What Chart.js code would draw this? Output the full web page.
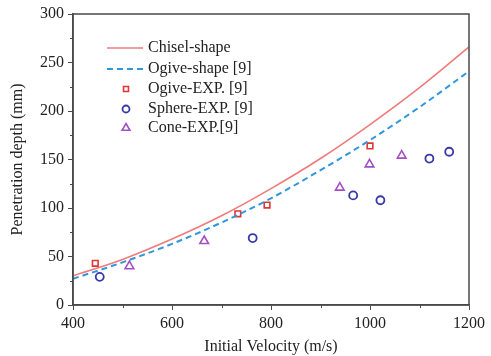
<!DOCTYPE html>
<html>
<head>
<meta charset="utf-8">
<script src="https://cdn.jsdelivr.net/npm/chart.js@4"></script>
<style>
  html, body { margin: 0; padding: 0; background: #fff; }
  #c { display: block; }
</style>
</head>
<body>
<canvas id="c" width="491" height="356"></canvas>
<script>
// model curves
const velocity = [400, 500, 600, 700, 800, 900, 1000, 1100, 1200];
const chiselDepth = [30, 47, 68, 92, 120, 151, 186, 224, 266];
const ogiveDepth = [27, 44, 63, 85, 110, 139, 170, 204, 241];

// experiments
const ogiveExpV = [445, 733, 792, 1000];
const ogiveExpD = [43, 94, 103, 164];
const sphereExpV = [454, 763, 966, 1021, 1120, 1160];
const sphereExpD = [29, 69, 113, 108, 151, 158];
const coneExpV = [514, 665, 939, 999, 1064];
const coneExpD = [40, 66, 121, 145, 154];

const xTicks = [400, 600, 800, 1000, 1200];
const yTicks = [0, 50, 100, 150, 200, 250, 300];

const FONT = "'Liberation Serif', 'Times New Roman', serif";
const AXIS = '#4a4a4a';

function pts(xs, ys) {
    return xs.map((x, i) => ({ x: x, y: ys[i] }));
}

// box round the plot + minor ticks
const framePlugin = {
    id: 'frame',
    afterDraw(chart) {
        const { ctx, chartArea: a, scales } = chart;
        ctx.save();
        ctx.strokeStyle = AXIS;
        ctx.lineWidth = 1.5;
        ctx.strokeRect(a.left, a.top, a.right - a.left, a.bottom - a.top);
        ctx.lineWidth = 1;
        for (let v = 500; v < 1200; v += 200) {
            const px = Math.round(scales.x.getPixelForValue(v)) + 0.5;
            ctx.beginPath(); ctx.moveTo(px, a.bottom); ctx.lineTo(px, a.bottom + 3); ctx.stroke();
        }
        for (let v = 25; v < 300; v += 50) {
            const py = Math.round(scales.y.getPixelForValue(v)) + 0.5;
            ctx.beginPath(); ctx.moveTo(a.left - 3, py); ctx.lineTo(a.left, py); ctx.stroke();
        }
        ctx.restore();
    }
};

// legend drawn inside the plot
const legendPlugin = {
    id: 'insideLegend',
    afterDatasetsDraw(chart) {
        const ctx = chart.ctx;
        const rows = [48, 69, 89, 109, 128];
        ctx.save();
        ctx.font = '16px ' + FONT;
        ctx.textBaseline = 'middle';
        chart.data.datasets.forEach((ds, i) => {
            const y = rows[i];
            if (ds.showLine) {
                ctx.strokeStyle = ds.borderColor;
                ctx.lineWidth = ds.borderWidth;
                ctx.setLineDash(ds.borderDash || []);
                ctx.beginPath(); ctx.moveTo(107, y); ctx.lineTo(143, y); ctx.stroke();
                ctx.setLineDash([]);
            } else {
                ctx.fillStyle = 'rgba(0,0,0,0)';
                ctx.strokeStyle = ds.pointBorderColor;
                ctx.lineWidth = ds.pointBorderWidth;
                Chart.helpers.drawPoint(ctx, {
                    pointStyle: ds.pointStyle,
                    radius: ds.pointRadius - 0.5,
                    borderWidth: ds.pointBorderWidth,
                    rotation: 0
                }, 126, y);
            }
            ctx.fillStyle = '#222';
            ctx.fillText(ds.label, 148, y);
        });
        ctx.restore();
    }
};

const tickFont = { family: FONT, size: 16 };

new Chart(document.getElementById('c'), {
    type: 'scatter',
    data: {
        datasets: [
            {
                label: 'Chisel-shape',
                data: pts(velocity, chiselDepth),
                showLine: true,
                borderColor: '#f07b7b',
                borderWidth: 1.6,
                pointRadius: 0,
                cubicInterpolationMode: 'monotone'
            },
            {
                label: 'Ogive-shape [9]',
                data: pts(velocity, ogiveDepth),
                showLine: true,
                borderColor: '#2f97dc',
                borderWidth: 2,
                borderDash: [6, 4],
                pointRadius: 0,
                cubicInterpolationMode: 'monotone'
            },
            {
                label: 'Ogive-EXP. [9]',
                data: pts(ogiveExpV, ogiveExpD),
                pointStyle: 'rect',
                pointRadius: 4,
                pointBorderWidth: 1.6,
                pointBorderColor: '#e03535',
                pointBackgroundColor: 'rgba(0,0,0,0)'
            },
            {
                label: 'Sphere-EXP. [9]',
                data: pts(sphereExpV, sphereExpD),
                pointStyle: 'circle',
                pointRadius: 4,
                pointBorderWidth: 1.8,
                pointBorderColor: '#3838a8',
                pointBackgroundColor: 'rgba(0,0,0,0)'
            },
            {
                label: 'Cone-EXP.[9]',
                data: pts(coneExpV, coneExpD),
                pointStyle: 'triangle',
                pointRadius: 5,
                pointBorderWidth: 1.6,
                pointBorderColor: '#a54fc4',
                pointBackgroundColor: 'rgba(0,0,0,0)'
            }
        ]
    },
    options: {
        responsive: false,
        animation: false,
        layout: { padding: { top: 14, right: 22, left: 0, bottom: 0 } },
        plugins: {
            legend: { display: false },
            tooltip: { enabled: false }
        },
        scales: {
            x: {
                type: 'linear',
                min: 400, max: 1200,
                afterBuildTicks: s => { s.ticks = xTicks.map(v => ({ value: v })); },
                afterFit: s => { s.height = 51; },
                grid: { drawOnChartArea: false, drawTicks: true, tickLength: 5, tickColor: AXIS, tickWidth: 1 },
                border: { display: true, color: AXIS, width: 1.5 },
                ticks: { color: '#222', font: tickFont, padding: 4, maxRotation: 0, callback: v => String(v) },
                title: {
                    display: true, text: 'Initial Velocity (m/s)', color: '#222',
                    font: tickFont, padding: { top: 0, bottom: 0 }
                }
            },
            y: {
                type: 'linear',
                min: 0, max: 300,
                afterBuildTicks: s => { s.ticks = yTicks.map(v => ({ value: v })); },
                afterFit: s => { s.width = 73; },
                grid: { drawOnChartArea: false, drawTicks: true, tickLength: 5, tickColor: AXIS, tickWidth: 1 },
                border: { display: true, color: AXIS, width: 1.5 },
                ticks: { color: '#222', font: tickFont, padding: 4, callback: v => String(v) },
                title: {
                    display: true, text: 'Penetration depth (mm)', color: '#222',
                    font: tickFont, padding: { top: 8, bottom: 0 }
                }
            }
        }
    },
    plugins: [framePlugin, legendPlugin]
});
</script>
</body>
</html>
